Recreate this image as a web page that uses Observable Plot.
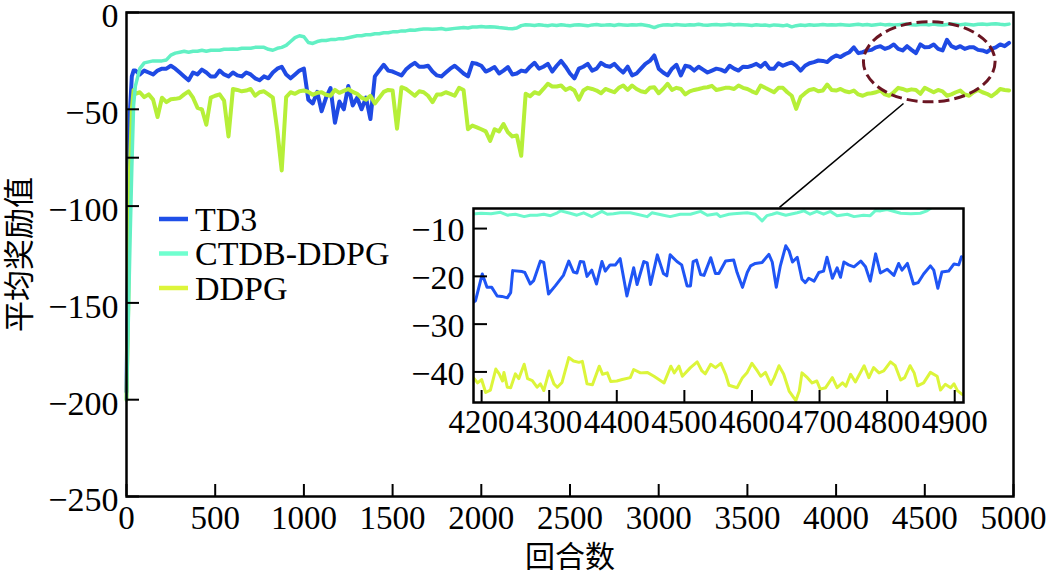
<!DOCTYPE html>
<html>
<head>
<meta charset="utf-8">
<script src="https://cdn.jsdelivr.net/npm/d3@7"></script>
<script src="https://cdn.jsdelivr.net/npm/@observablehq/plot@0.6"></script>
<style>
  html, body { margin: 0; padding: 0; background: #fff; }
  #wrap { position: relative; width: 1048px; height: 574px; overflow: hidden; }
  #wrap svg { position: absolute; overflow: visible; }
</style>
</head>
<body>
<div id="wrap"></div>
<script>
// ---------------- data ----------------
const seriesNames = ["TD3", "CTDB-DDPG", "DDPG"];
const mainColors = ["#1f4ae4", "#62f0c4", "#b6ef38"];
const legendColors = ["#1f4fe8", "#70ffcf", "#ddf53a"];
const insetColors = ["#1f55f5", "#6cf8cc", "#dcf53a"];

const xTicks = [0, 500, 1000, 1500, 2000, 2500, 3000, 3500, 4000, 4500, 5000];
const yTicks = [0, -50, -100, -150, -200, -250];
const yMinorTicks = [-75];
const insetXTicks = [4200, 4300, 4400, 4500, 4600, 4700, 4800, 4900];
const insetYTicks = [-10, -20, -30, -40];

// start of training (episodes) and 500-episode blocks
const headEp = [0, 10, 20, 30, 40];
const rowStarts = [50, 500, 1000, 1500, 2000, 2500, 3000, 3500, 4000, 4500, 5000];

const td3Head = [-196, -120, -50, -33, -30];
const td3Rows = [
  [-30, -32, -30, -31, -32, -30, -29, -29, -27.5, -29, -31, -33, -35, -31, -32, -29.5, -31, -33],
  [-33, -30, -32, -33, -31, -32.5, -33, -31, -32, -34, -35, -33, -34, -31, -29, -28, -32, -34, -32, -30],
  [-29, -45, -47, -41, -51, -44, -39, -57, -46, -50, -38, -48, -44, -50, -44, -55, -33, -30, -27, -30],
  [-30.5, -31.5, -32.5, -29.5, -27.5, -26, -28, -28, -27.5, -30.5, -32.5, -33, -31, -29, -27.5, -29.5, -31.5, -33, -26, -26.5],
  [-27.5, -30.5, -29.5, -28.2, -31.5, -30, -28.2, -32, -31.5, -30, -30.5, -28, -26, -29, -28, -26.5, -30.5, -27.5, -25, -28],
  [-31.5, -34, -29, -28, -26.5, -30, -29, -26, -27.5, -28, -26.5, -29, -31, -28, -32.5, -31.5, -29, -26.5, -25, -22.2],
  [-29, -31, -32.5, -29, -27, -32.5, -27.5, -28, -30, -28, -29.5, -31, -30, -29, -29.5, -30.5, -27.5, -29, -30, -28],
  [-28.2, -27.5, -26.5, -28, -26, -29, -29, -26.2, -27.5, -26.5, -25.8, -27.5, -30, -27.5, -26.2, -25.6, -24.8, -25, -25.6, -23.5],
  [-22.2, -23, -21.6, -20.5, -18, -21, -20.5, -19.6, -19.3, -18, -17.4, -18.8, -18, -16.5, -18.8, -19.6, -17.4, -19.3, -21, -16.5],
  [-18, -17.8, -16.5, -18.8, -19.6, -14.1, -17.4, -18.4, -17.4, -18.8, -18, -18, -19.3, -19.6, -20.5, -18.8, -18, -16.5, -17.4, -15.7]
];

const ctdbHead = [-200, -160, -118, -80, -48];
const ctdbRows = [
  [-38, -29, -26, -25.5, -25, -25, -25, -24.5, -22, -21, -20.5, -20, -20.5, -20, -20, -19.5, -20, -19.5],
  [-19.5, -19.5, -19, -19, -18.8, -19, -18.5, -18.5, -18.5, -18, -18, -18, -19, -19.5, -18.5, -18, -17, -15, -13, -12],
  [-12.5, -15.5, -16, -15, -14.5, -14.5, -14, -14, -13.5, -13.5, -13, -12.5, -12, -12, -11.5, -11.5, -11, -11, -10.5, -10.5],
  [-10, -10, -9.5, -9.5, -9, -9.2, -8.8, -8.5, -8.5, -8.7, -8.5, -8.3, -8.8, -8.5, -8.2, -8, -7.8, -8, -7.5, -7.5],
  [-7.2, -7.5, -7.3, -7.5, -7.8, -8, -8.3, -8.4, -8, -6.8, -6.3, -6.5, -6.7, -6.3, -6.6, -6.8, -6.4, -6.7, -6.3, -6.6],
  [-6.8, -6.5, -6.3, -6.6, -6.9, -6.4, -6.2, -6.6, -6.5, -6.3, -6.7, -6.2, -6.4, -6.6, -6.3, -6.5, -6.2, -6.6, -7.0, -7.8],
  [-6.9, -6.5, -6.3, -6.6, -6.2, -6.4, -6.6, -6.3, -6.5, -6.1, -6.4, -6.6, -6.3, -6.2, -6.5, -6.3, -6.1, -6.4, -6.2, -6.3],
  [-6.4, -6.7, -6.3, -6.6, -6.5, -6.8, -6.4, -6.6, -6.9, -6.5, -7.4, -6.8, -6.5, -6.7, -6.3, -6.6, -6.4, -6.2, -6.5, -6.3],
  [-6.5, -6.2, -6.4, -6.6, -6.3, -6.1, -6.4, -6.2, -6.6, -6.3, -6.0, -6.4, -6.2, -6.5, -6.3, -6.1, -6.0, -6.3, -6.5, -6.2],
  [-6.1, -6.4, -6.0, -6.3, -6.5, -6.2, -5.9, -6.1, -6.3, -6.0, -6.2, -6.4, -6.1, -5.9, -6.2, -6.0, -5.8, -6.1, -6.3, -6.0]
];

const ddpgHead = [-200, -150, -80, -50, -40];
const ddpgRows = [
  [-42, -41.2, -43.7, -42.3, -45, -54, -44, -46.3, -44.8, -44.6, -44.2, -42.3, -40.7, -44, -49.2, -50, -58, -44],
  [-43, -42.3, -45.5, -64, -39.5, -40, -40.7, -40.3, -39.5, -43, -41.2, -40.7, -42.3, -44, -61, -81.6, -43.7, -41.2, -42, -40.7],
  [-40.3, -41, -42.5, -41.5, -41.2, -42.5, -43, -40, -41.5, -40.5, -39.5, -41, -42, -44, -45, -43, -47, -44, -41, -40],
  [-40.3, -60, -38.6, -39.5, -41.2, -43, -40.7, -41.2, -43, -46.3, -42.3, -42.3, -41.2, -42, -43, -38.9, -40, -60.3, -58.4, -59.3],
  [-60.3, -61.4, -66.3, -60.3, -61.4, -57.6, -61.9, -64, -63.5, -74, -42, -43.3, -41.2, -42, -39.5, -36.8, -38.2, -38.2, -37.7, -40],
  [-38.9, -40.3, -45, -40.3, -38.9, -39.5, -40.3, -41.7, -39.5, -40.3, -41.2, -38.9, -37.7, -40, -37.7, -39.5, -40.7, -41.2, -38.9, -38.6],
  [-41.7, -39.5, -36.8, -40, -38.9, -39.5, -42.3, -40.7, -40, -39.5, -38.9, -38.6, -37.9, -40, -39.5, -38.9, -38.9, -39.5, -37.7, -38.9],
  [-39.5, -40.7, -41.7, -37.7, -38.9, -40, -41.2, -38.9, -38.9, -41.2, -43, -49.8, -43.7, -41.7, -40, -39.5, -40.7, -40.3, -37.2, -40],
  [-40.3, -39.5, -40.7, -41.2, -40.3, -42.3, -43, -42, -41.7, -41.2, -40.3, -42.3, -43, -41.2, -38.9, -39.5, -40.3, -39.7, -40, -42],
  [-38.9, -40, -41.2, -40, -40.7, -43, -42.3, -41.2, -40.3, -42.3, -43, -41.2, -40, -41.2, -42, -43.3, -41.7, -39.5, -40, -40.3]
];

// inset (episode, reward) readings, 4200-4900
const insetTd3 = [
  [4184,-25.8],[4191,-25.1],[4201,-19.5],[4208,-22.3],[4215,-22.3],[4223,-24.1],[4230,-24.2],[4238,-24.5],
  [4243,-23.4],[4246,-18.8],[4260,-19.0],[4264,-19.2],[4272,-21.6],[4277,-20.9],[4287,-16.8],[4292,-17.1],
  [4299,-23.7],[4309,-22.0],[4321,-19.8],[4329,-16.8],[4336,-19.1],[4341,-19.3],[4346,-16.9],[4351,-17.0],
  [4356,-20.0],[4363,-18.7],[4370,-21.6],[4378,-16.9],[4383,-18.9],[4390,-17.6],[4398,-17.6],[4405,-16.3],
  [4415,-24.1],[4425,-18.2],[4430,-21.7],[4440,-16.9],[4445,-17.2],[4450,-21.7],[4460,-15.5],[4469,-19.4],
  [4474,-19.9],[4479,-15.5],[4489,-16.9],[4496,-17.6],[4504,-22.0],[4509,-22.0],[4513,-16.9],[4518,-16.6],
  [4524,-19.6],[4529,-19.8],[4539,-16.1],[4546,-19.4],[4551,-19.4],[4561,-16.8],[4573,-16.6],[4578,-19.2],
  [4586,-22.3],[4593,-19.2],[4598,-17.8],[4605,-17.3],[4615,-17.1],[4625,-15.4],[4630,-17.0],[4636,-22.3],
  [4642,-17.8],[4650,-13.6],[4655,-14.7],[4660,-17.0],[4667,-16.0],[4674,-20.6],[4679,-21.3],[4684,-20.4],
  [4692,-21.0],[4699,-19.2],[4706,-18.9],[4711,-16.0],[4719,-20.4],[4726,-18.2],[4731,-20.2],[4736,-17.0],
  [4743,-17.6],[4751,-18.0],[4761,-16.8],[4768,-18.0],[4775,-21.0],[4783,-15.3],[4790,-19.3],[4800,-18.5],
  [4810,-19.8],[4817,-17.3],[4822,-18.7],[4830,-17.3],[4839,-21.6],[4846,-21.3],[4854,-19.5],[4864,-17.8],
  [4869,-18.7],[4875,-22.5],[4881,-19.1],[4891,-18.9],[4899,-17.4],[4906,-17.6],[4910,-15.9]
];
const insetCtdb = [
  [4184,-7.0],[4199,-6.8],[4214,-6.9],[4228,-6.6],[4238,-7.2],[4250,-7.0],[4263,-7.5],[4272,-7.2],
  [4282,-7.2],[4292,-7.0],[4302,-7.3],[4312,-6.7],[4317,-6.3],[4331,-6.8],[4341,-7.2],[4351,-6.7],
  [4363,-7.5],[4378,-6.4],[4386,-7.0],[4395,-6.9],[4405,-6.7],[4420,-6.7],[4430,-7.0],[4445,-7.5],
  [4452,-6.7],[4469,-7.2],[4479,-7.5],[4494,-7.0],[4509,-7.0],[4524,-6.4],[4534,-7.2],[4548,-6.9],
  [4553,-7.5],[4566,-7.0],[4573,-6.9],[4593,-6.7],[4605,-7.0],[4615,-8.4],[4622,-7.3],[4630,-7.0],
  [4637,-6.7],[4650,-7.2],[4667,-6.7],[4677,-6.3],[4686,-7.0],[4696,-6.4],[4706,-7.0],[4716,-6.4],
  [4726,-7.3],[4741,-7.0],[4751,-7.5],[4765,-7.2],[4775,-7.3],[4783,-6.2],[4790,-6.3],[4800,-6.0],
  [4820,-6.8],[4835,-6.9],[4849,-6.8],[4859,-6.3],[4866,-5.6],[4874,-5.0],[4889,-4.6],[4904,-4.8],[4911,-4.7]
];
const insetDdpg = [
  [4184,-40.5],[4194,-42.3],[4200,-41.6],[4206,-44.3],[4213,-43.8],[4221,-39.4],[4226,-40.4],[4231,-41.9],
  [4233,-40.1],[4238,-43.2],[4243,-43.3],[4250,-40.4],[4255,-41.4],[4263,-38.4],[4268,-41.4],[4275,-41.8],
  [4282,-43.2],[4287,-42.5],[4292,-43.9],[4300,-39.8],[4307,-42.5],[4312,-43.2],[4319,-42.2],[4329,-37.0],
  [4336,-37.7],[4344,-38.0],[4349,-37.8],[4356,-42.5],[4364,-42.7],[4374,-38.8],[4379,-40.5],[4386,-40.2],
  [4391,-42.0],[4400,-41.9],[4408,-41.6],[4420,-41.2],[4425,-39.5],[4435,-40.2],[4445,-40.1],[4455,-40.9],
  [4470,-42.3],[4480,-38.8],[4485,-40.2],[4492,-38.8],[4497,-40.9],[4509,-39.1],[4519,-37.9],[4526,-39.8],
  [4531,-40.4],[4539,-38.4],[4546,-39.1],[4554,-38.2],[4561,-40.5],[4566,-42.8],[4578,-43.3],[4586,-41.2],
  [4593,-40.1],[4600,-38.2],[4608,-39.8],[4613,-40.9],[4620,-40.1],[4628,-42.6],[4633,-41.2],[4640,-38.7],
  [4647,-40.5],[4655,-44.0],[4665,-46.0],[4670,-44.0],[4674,-40.2],[4682,-41.2],[4689,-42.3],[4696,-41.9],
  [4701,-43.6],[4709,-43.3],[4719,-41.2],[4726,-43.3],[4734,-42.3],[4739,-43.0],[4746,-40.5],[4753,-42.1],
  [4766,-38.7],[4773,-41.2],[4780,-39.1],[4788,-40.2],[4795,-39.8],[4805,-37.9],[4812,-38.7],[4820,-41.7],
  [4826,-41.2],[4834,-38.7],[4840,-40.2],[4845,-42.9],[4854,-42.3],[4864,-40.1],[4874,-40.9],[4879,-43.8],
  [4886,-42.6],[4894,-43.3],[4899,-42.5],[4904,-43.9],[4911,-44.7]
];

// annotation (in data units of the main chart)
const ellipseCenter = [4528, -25.7];
const ellipseRadii = [371, 20.7];
const connector = {x1: 4380, y1: -47, x2: 3681, y2: -100.7};
const insetXDomain = [4188, 4913];
const insetYDomain = [-46.4, -5.8];

// ---------------- build ----------------
function expand(head, rows) {
  const out = head.map((v, i) => ({ep: headEp[i], v}));
  rows.forEach((row, k) => {
    const a = rowStarts[k], b = rowStarts[k + 1];
    row.forEach((v, i) => out.push({ep: a + (b - a) * i / row.length, v}));
  });
  return out;
}
const mainSeries = [expand(td3Head, td3Rows), expand(ctdbHead, ctdbRows), expand(ddpgHead, ddpgRows)];
const insetSeries = [insetTd3, insetCtdb, insetDdpg];

const serif = "'Liberation Serif', 'Times New Roman', 'DejaVu Serif', serif";
const cjk = "'Noto Sans CJK SC', 'Noto Sans CJK JP', sans-serif";
const fmt = d => d < 0 ? "\u2212" + (-d) : String(d);
const FS = 33;

const W = 1048, H = 574, mL = 126, mR = 35, mT = 12, mB = 78;
const innerW = W - mL - mR, innerH = H - mT - mB;

function legendMark(index, scales, values, dims) {
  const g = d3.create("svg:g");
  seriesNames.forEach((name, i) => {
    const y = dims.marginTop + 207 + i * 34.5;
    g.append("line")
      .attr("x1", dims.marginLeft + 33).attr("x2", dims.marginLeft + 62)
      .attr("y1", y).attr("y2", y)
      .attr("stroke", legendColors[i]).attr("stroke-width", 4.5);
    g.append("text")
      .attr("x", dims.marginLeft + 69).attr("y", y).attr("dy", "0.35em")
      .attr("text-anchor", "start")
      .attr("font-family", serif).attr("font-size", FS + 1).attr("fill", "#000")
      .text(name);
  });
  return g.node();
}
function ellipseMark(index, scales) {
  const cx = scales.x(ellipseCenter[0]), cy = scales.y(ellipseCenter[1]);
  const rx = Math.abs(scales.x(ellipseCenter[0] + ellipseRadii[0]) - cx);
  const ry = Math.abs(scales.y(ellipseCenter[1] + ellipseRadii[1]) - cy);
  return d3.create("svg:ellipse")
    .attr("cx", cx).attr("cy", cy).attr("rx", rx).attr("ry", ry)
    .attr("fill", "none").attr("stroke", "#6a1522").attr("stroke-width", 3)
    .attr("stroke-dasharray", "11,5").node();
}

const drawOrder = [0, 2, 1];
const lineWidths = [4, 3.5, 4];
const main = Plot.plot({
  width: W, height: H,
  marginLeft: mL, marginRight: mR, marginTop: mT, marginBottom: mB,
  x: {domain: [0, 5000], label: null},
  y: {domain: [-250, 0], label: null},
  style: {fontFamily: serif, fontSize: FS + "px", color: "#000", background: "transparent"},
  marks: [
    ...drawOrder.map(i => Plot.line(mainSeries[i], {x: "ep", y: "v", stroke: mainColors[i], strokeWidth: lineWidths[i]})),
    ellipseMark,
    Plot.link([connector], {x1: "x1", y1: "y1", x2: "x2", y2: "y2", stroke: "#000", strokeWidth: 1.6}),
    Plot.ruleX(xTicks, {x: d => d, insetTop: innerH - 12, stroke: "#000", strokeWidth: 2}),
    Plot.ruleY([...yTicks, ...yMinorTicks], {y: d => d, insetRight: innerW - 13, stroke: "#000", strokeWidth: 2}),
    Plot.axisX(xTicks, {tickSize: 0, tickPadding: 9, fontSize: FS, tickFormat: fmt, label: null}),
    Plot.axisY(yTicks, {tickSize: 0, tickPadding: 8, fontSize: FS + 1, dy: 4, tickFormat: fmt, label: null}),
    Plot.frame({stroke: "#000", strokeWidth: 2.5}),
    Plot.text(["回合数"], {frameAnchor: "bottom", dy: 61, lineAnchor: "middle", textAnchor: "middle", fontFamily: cjk, fontSize: 30, fill: "#000"}),
    Plot.text(["平均奖励值"], {frameAnchor: "left", dx: -106, rotate: -90, lineAnchor: "middle", textAnchor: "middle", fontFamily: cjk, fontSize: 31, fill: "#000"}),
    legendMark
  ]
});
main.style.left = "0px"; main.style.top = "0px";

// inset
const iL = 60, iR = 4, iT = 2, iB = 40, iW = 490, iH = 194;
const inset = Plot.plot({
  width: iL + iW + iR, height: iT + iH + iB,
  marginLeft: iL, marginRight: iR, marginTop: iT, marginBottom: iB,
  x: {domain: insetXDomain, label: null},
  y: {domain: insetYDomain, label: null},
  style: {fontFamily: serif, fontSize: FS + "px", color: "#000", background: "transparent"},
  marks: [
    Plot.frame({fill: "#fff"}),
    ...[1, 0, 2].map(i => Plot.line(insetSeries[i], {x: d => d[0], y: d => d[1], stroke: insetColors[i], strokeWidth: 3, clip: true})),
    Plot.ruleX(insetXTicks, {x: d => d, insetTop: iH - 12, stroke: "#000", strokeWidth: 2}),
    Plot.ruleY(insetYTicks, {y: d => d, insetRight: iW - 14, stroke: "#000", strokeWidth: 2}),
    Plot.axisX(insetXTicks, {tickSize: 0, tickPadding: 7, fontSize: FS, tickFormat: fmt, label: null}),
    Plot.axisY(insetYTicks, {tickSize: 0, tickPadding: 9, fontSize: FS + 1, dy: 2, tickFormat: fmt, label: null}),
    Plot.frame({stroke: "#000", strokeWidth: 2.5})
  ]
});
inset.style.left = (473 - iL) + "px"; inset.style.top = (208 - iT) + "px";

const wrap = document.getElementById("wrap");
wrap.appendChild(main);
wrap.appendChild(inset);
</script>
</body>
</html>
